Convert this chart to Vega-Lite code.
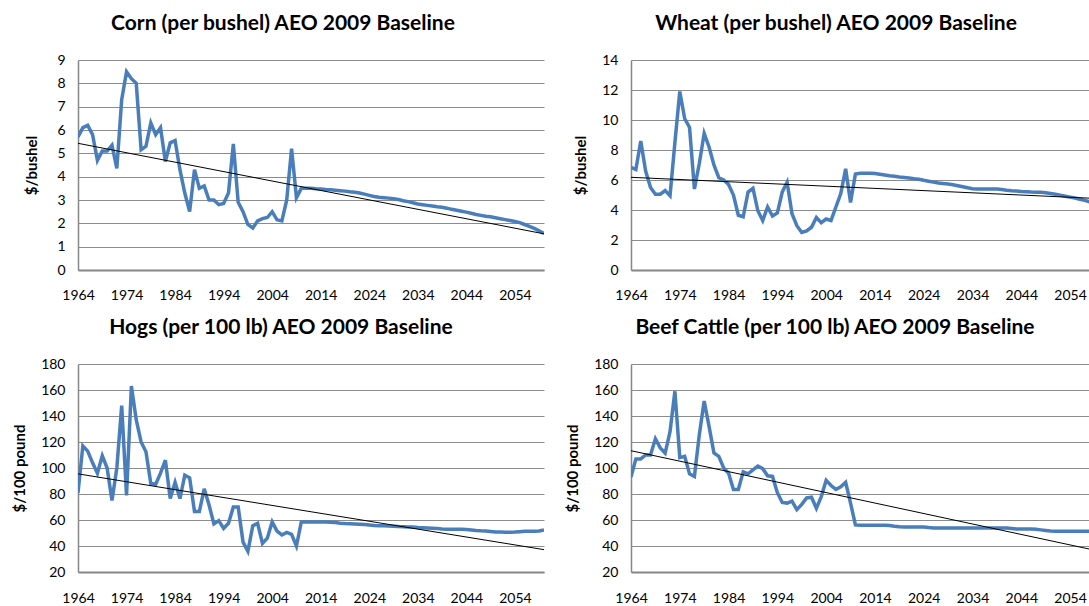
{
"$schema": "https://vega.github.io/schema/vega-lite/v6.json",
"padding": {"left": 12, "top": 13, "right": 0, "bottom": 0},
"columns": 2,
"align": "each",
"spacing": {"row": 15, "column": 21},
"config": {
  "font": "Lato",
  "view": {"stroke": null},
  "title": {"font": "Lato", "fontSize": 21, "fontWeight": "bold", "color": "#000000", "anchor": "middle", "offset": 19},
  "axis": {"labelFont": "Lato", "labelFontSize": 14, "labelColor": "#000000", "titleFont": "Lato", "titleColor": "#000000", "labelFlush": false, "ticks": false, "tickSize": 0},
  "axisX": {"grid": false, "domainColor": "#868686", "domainWidth": 2, "labelPadding": 18},
  "axisY": {"grid": true, "gridColor": "#8c8c8c", "gridWidth": 1, "domainColor": "#868686", "domainWidth": 1.5, "labelPadding": 13, "titlePadding": 13, "titleFontSize": 15, "titleFontWeight": "bold"}
},
"concat": [
  {
    "width": 466, "height": 210,
    "title": {"text": "Corn (per bushel) AEO 2009 Baseline", "dx": -28},
    "encoding": {
      "x": {"field": "year", "type": "quantitative", "scale": {"domain": [1964, 2060], "nice": false, "zero": false}, "axis": {"title": null, "format": "d", "values": [1964, 1974, 1984, 1994, 2004, 2014, 2024, 2034, 2044, 2054]}},
      "y": {"field": "price", "type": "quantitative", "scale": {"domain": [0, 9], "nice": false, "zero": false}, "axis": {"title": "$/bushel", "titlePadding": 17, "values": [0, 1, 2, 3, 4, 5, 6, 7, 8, 9]}}
    },
    "layer": [
      {"data": {"name": "corn"}, "mark": {"type": "line", "color": "#4A7EBB", "strokeWidth": 3.5, "clip": true}},
      {"data": {"name": "cornTrend"}, "mark": {"type": "line", "color": "#000000", "strokeWidth": 1, "clip": true}}
    ]
  },
  {
    "width": 462, "height": 210,
    "title": {"text": "Wheat (per bushel) AEO 2009 Baseline", "dx": -26},
    "encoding": {
      "x": {"field": "year", "type": "quantitative", "scale": {"domain": [1964, 2058.7], "nice": false, "zero": false}, "axis": {"title": null, "format": "d", "values": [1964, 1974, 1984, 1994, 2004, 2014, 2024, 2034, 2044, 2054]}},
      "y": {"field": "price", "type": "quantitative", "scale": {"domain": [0, 14], "nice": false, "zero": false}, "axis": {"title": "$/bushel", "values": [0, 2, 4, 6, 8, 10, 12, 14]}}
    },
    "layer": [
      {"data": {"name": "wheat"}, "mark": {"type": "line", "color": "#4A7EBB", "strokeWidth": 3.5, "clip": true}},
      {"data": {"name": "wheatTrend"}, "mark": {"type": "line", "color": "#000000", "strokeWidth": 1, "clip": true}}
    ]
  },
  {
    "width": 466, "height": 208,
    "title": {"text": "Hogs (per 100 lb) AEO 2009 Baseline", "dx": -30},
    "encoding": {
      "x": {"field": "year", "type": "quantitative", "scale": {"domain": [1964, 2060], "nice": false, "zero": false}, "axis": {"title": null, "format": "d", "labelPadding": 19, "values": [1964, 1974, 1984, 1994, 2004, 2014, 2024, 2034, 2044, 2054]}},
      "y": {"field": "price", "type": "quantitative", "scale": {"domain": [20, 180], "nice": false, "zero": false}, "axis": {"title": "$/100 pound", "values": [20, 40, 60, 80, 100, 120, 140, 160, 180]}}
    },
    "layer": [
      {"data": {"name": "hogs"}, "mark": {"type": "line", "color": "#4A7EBB", "strokeWidth": 3.5, "clip": true}},
      {"data": {"name": "hogsTrend"}, "mark": {"type": "line", "color": "#000000", "strokeWidth": 1, "clip": true}}
    ]
  },
  {
    "width": 462, "height": 208,
    "title": {"text": "Beef Cattle (per 100 lb) AEO 2009 Baseline", "dx": -27},
    "encoding": {
      "x": {"field": "year", "type": "quantitative", "scale": {"domain": [1964, 2058.7], "nice": false, "zero": false}, "axis": {"title": null, "format": "d", "labelPadding": 19, "values": [1964, 1974, 1984, 1994, 2004, 2014, 2024, 2034, 2044, 2054]}},
      "y": {"field": "price", "type": "quantitative", "scale": {"domain": [20, 180], "nice": false, "zero": false}, "axis": {"title": "$/100 pound", "values": [20, 40, 60, 80, 100, 120, 140, 160, 180]}}
    },
    "layer": [
      {"data": {"name": "beef"}, "mark": {"type": "line", "color": "#4A7EBB", "strokeWidth": 3.5, "clip": true}},
      {"data": {"name": "beefTrend"}, "mark": {"type": "line", "color": "#000000", "strokeWidth": 1, "clip": true}}
    ]
  }
],
"datasets": {
  "cornTrend": [{"year": 1964, "price": 5.43}, {"year": 2060, "price": 1.55}],
  "wheatTrend": [{"year": 1964, "price": 6.18}, {"year": 2060, "price": 4.76}],
  "hogsTrend": [{"year": 1964, "price": 95.5}, {"year": 2060, "price": 37.2}],
  "beefTrend": [{"year": 1964, "price": 113.3}, {"year": 2060, "price": 36.0}],
  "corn": [
    {"year": 1964, "price": 5.7}, {"year": 1965, "price": 6.1}, {"year": 1966, "price": 6.2}, {"year": 1967, "price": 5.8}, {"year": 1968, "price": 4.7},
    {"year": 1969, "price": 5.1}, {"year": 1970, "price": 5.1}, {"year": 1971, "price": 5.35}, {"year": 1972, "price": 4.35}, {"year": 1973, "price": 7.3},
    {"year": 1974, "price": 8.5}, {"year": 1975, "price": 8.2}, {"year": 1976, "price": 8.0}, {"year": 1977, "price": 5.15}, {"year": 1978, "price": 5.3},
    {"year": 1979, "price": 6.3}, {"year": 1980, "price": 5.8}, {"year": 1981, "price": 6.1}, {"year": 1982, "price": 4.65}, {"year": 1983, "price": 5.45},
    {"year": 1984, "price": 5.55}, {"year": 1985, "price": 4.3}, {"year": 1986, "price": 3.3}, {"year": 1987, "price": 2.5}, {"year": 1988, "price": 4.3},
    {"year": 1989, "price": 3.5}, {"year": 1990, "price": 3.6}, {"year": 1991, "price": 3.0}, {"year": 1992, "price": 3.0}, {"year": 1993, "price": 2.8},
    {"year": 1994, "price": 2.85}, {"year": 1995, "price": 3.3}, {"year": 1996, "price": 5.4}, {"year": 1997, "price": 2.9}, {"year": 1998, "price": 2.5},
    {"year": 1999, "price": 1.95}, {"year": 2000, "price": 1.8}, {"year": 2001, "price": 2.1}, {"year": 2002, "price": 2.2}, {"year": 2003, "price": 2.25},
    {"year": 2004, "price": 2.5}, {"year": 2005, "price": 2.15}, {"year": 2006, "price": 2.1}, {"year": 2007, "price": 3.0}, {"year": 2008, "price": 5.2},
    {"year": 2009, "price": 3.1}, {"year": 2010, "price": 3.5}, {"year": 2011, "price": 3.5}, {"year": 2012, "price": 3.5}, {"year": 2013, "price": 3.48},
    {"year": 2014, "price": 3.47}, {"year": 2015, "price": 3.45}, {"year": 2016, "price": 3.44}, {"year": 2017, "price": 3.42}, {"year": 2018, "price": 3.4},
    {"year": 2019, "price": 3.38}, {"year": 2020, "price": 3.35}, {"year": 2021, "price": 3.33}, {"year": 2022, "price": 3.3}, {"year": 2023, "price": 3.25},
    {"year": 2024, "price": 3.2}, {"year": 2025, "price": 3.15}, {"year": 2026, "price": 3.12}, {"year": 2027, "price": 3.1}, {"year": 2028, "price": 3.08},
    {"year": 2029, "price": 3.05}, {"year": 2030, "price": 3.02}, {"year": 2031, "price": 2.97}, {"year": 2032, "price": 2.93}, {"year": 2033, "price": 2.88},
    {"year": 2034, "price": 2.83}, {"year": 2035, "price": 2.8}, {"year": 2036, "price": 2.77}, {"year": 2037, "price": 2.74}, {"year": 2038, "price": 2.71},
    {"year": 2039, "price": 2.69}, {"year": 2040, "price": 2.65}, {"year": 2041, "price": 2.6}, {"year": 2042, "price": 2.56}, {"year": 2043, "price": 2.52},
    {"year": 2044, "price": 2.48}, {"year": 2045, "price": 2.43}, {"year": 2046, "price": 2.38}, {"year": 2047, "price": 2.34}, {"year": 2048, "price": 2.3},
    {"year": 2049, "price": 2.28}, {"year": 2050, "price": 2.24}, {"year": 2051, "price": 2.2}, {"year": 2052, "price": 2.16}, {"year": 2053, "price": 2.12},
    {"year": 2054, "price": 2.08}, {"year": 2055, "price": 2.03}, {"year": 2056, "price": 1.95}, {"year": 2057, "price": 1.87}, {"year": 2058, "price": 1.78},
    {"year": 2059, "price": 1.68}, {"year": 2060, "price": 1.57}
  ],
  "wheat": [
    {"year": 1964, "price": 6.85}, {"year": 1965, "price": 6.7}, {"year": 1966, "price": 8.6}, {"year": 1967, "price": 6.6}, {"year": 1968, "price": 5.5},
    {"year": 1969, "price": 5.05}, {"year": 1970, "price": 5.05}, {"year": 1971, "price": 5.3}, {"year": 1972, "price": 4.95}, {"year": 1973, "price": 8.5},
    {"year": 1974, "price": 11.9}, {"year": 1975, "price": 10.1}, {"year": 1976, "price": 9.5}, {"year": 1977, "price": 5.4}, {"year": 1978, "price": 7.1},
    {"year": 1979, "price": 9.1}, {"year": 1980, "price": 8.2}, {"year": 1981, "price": 7.0}, {"year": 1982, "price": 6.15}, {"year": 1983, "price": 6.0},
    {"year": 1984, "price": 5.7}, {"year": 1985, "price": 5.0}, {"year": 1986, "price": 3.65}, {"year": 1987, "price": 3.55}, {"year": 1988, "price": 5.2},
    {"year": 1989, "price": 5.45}, {"year": 1990, "price": 3.95}, {"year": 1991, "price": 3.3}, {"year": 1992, "price": 4.2}, {"year": 1993, "price": 3.6},
    {"year": 1994, "price": 3.8}, {"year": 1995, "price": 5.2}, {"year": 1996, "price": 5.85}, {"year": 1997, "price": 3.75}, {"year": 1998, "price": 2.95},
    {"year": 1999, "price": 2.5}, {"year": 2000, "price": 2.6}, {"year": 2001, "price": 2.85}, {"year": 2002, "price": 3.5}, {"year": 2003, "price": 3.15},
    {"year": 2004, "price": 3.4}, {"year": 2005, "price": 3.3}, {"year": 2006, "price": 4.2}, {"year": 2007, "price": 5.1}, {"year": 2008, "price": 6.75},
    {"year": 2009, "price": 4.5}, {"year": 2010, "price": 6.4}, {"year": 2011, "price": 6.45}, {"year": 2012, "price": 6.45}, {"year": 2013, "price": 6.45},
    {"year": 2014, "price": 6.43}, {"year": 2015, "price": 6.38}, {"year": 2016, "price": 6.33}, {"year": 2017, "price": 6.28}, {"year": 2018, "price": 6.25},
    {"year": 2019, "price": 6.2}, {"year": 2020, "price": 6.17}, {"year": 2021, "price": 6.13}, {"year": 2022, "price": 6.08}, {"year": 2023, "price": 6.05},
    {"year": 2024, "price": 5.98}, {"year": 2025, "price": 5.92}, {"year": 2026, "price": 5.86}, {"year": 2027, "price": 5.8}, {"year": 2028, "price": 5.76},
    {"year": 2029, "price": 5.73}, {"year": 2030, "price": 5.68}, {"year": 2031, "price": 5.62}, {"year": 2032, "price": 5.55}, {"year": 2033, "price": 5.48},
    {"year": 2034, "price": 5.42}, {"year": 2035, "price": 5.4}, {"year": 2036, "price": 5.4}, {"year": 2037, "price": 5.4}, {"year": 2038, "price": 5.4},
    {"year": 2039, "price": 5.4}, {"year": 2040, "price": 5.36}, {"year": 2041, "price": 5.32}, {"year": 2042, "price": 5.29}, {"year": 2043, "price": 5.27},
    {"year": 2044, "price": 5.24}, {"year": 2045, "price": 5.22}, {"year": 2046, "price": 5.2}, {"year": 2047, "price": 5.19}, {"year": 2048, "price": 5.18},
    {"year": 2049, "price": 5.15}, {"year": 2050, "price": 5.1}, {"year": 2051, "price": 5.05}, {"year": 2052, "price": 4.98}, {"year": 2053, "price": 4.92},
    {"year": 2054, "price": 4.86}, {"year": 2055, "price": 4.8}, {"year": 2056, "price": 4.72}, {"year": 2057, "price": 4.64}, {"year": 2058, "price": 4.55},
    {"year": 2059, "price": 4.47}, {"year": 2060, "price": 4.4}
  ],
  "hogs": [
    {"year": 1964, "price": 81}, {"year": 1965, "price": 117}, {"year": 1966, "price": 113}, {"year": 1967, "price": 104}, {"year": 1968, "price": 96},
    {"year": 1969, "price": 109.5}, {"year": 1970, "price": 100}, {"year": 1971, "price": 75}, {"year": 1972, "price": 100}, {"year": 1973, "price": 148},
    {"year": 1974, "price": 79}, {"year": 1975, "price": 163}, {"year": 1976, "price": 137}, {"year": 1977, "price": 120}, {"year": 1978, "price": 112.5},
    {"year": 1979, "price": 88}, {"year": 1980, "price": 87.5}, {"year": 1981, "price": 96}, {"year": 1982, "price": 106}, {"year": 1983, "price": 76.5},
    {"year": 1984, "price": 89}, {"year": 1985, "price": 76.5}, {"year": 1986, "price": 94.5}, {"year": 1987, "price": 92.5}, {"year": 1988, "price": 66.5},
    {"year": 1989, "price": 66.5}, {"year": 1990, "price": 84}, {"year": 1991, "price": 71.5}, {"year": 1992, "price": 57}, {"year": 1993, "price": 59.5},
    {"year": 1994, "price": 53.5}, {"year": 1995, "price": 57.5}, {"year": 1996, "price": 70}, {"year": 1997, "price": 70}, {"year": 1998, "price": 43},
    {"year": 1999, "price": 36}, {"year": 2000, "price": 55.5}, {"year": 2001, "price": 57.5}, {"year": 2002, "price": 42}, {"year": 2003, "price": 46},
    {"year": 2004, "price": 58.5}, {"year": 2005, "price": 51.5}, {"year": 2006, "price": 48.5}, {"year": 2007, "price": 50.5}, {"year": 2008, "price": 49},
    {"year": 2009, "price": 40}, {"year": 2010, "price": 58.5}, {"year": 2011, "price": 58.5}, {"year": 2012, "price": 58.5}, {"year": 2013, "price": 58.5},
    {"year": 2014, "price": 58.5}, {"year": 2015, "price": 58.5}, {"year": 2016, "price": 58.3}, {"year": 2017, "price": 58.0}, {"year": 2018, "price": 57.5},
    {"year": 2019, "price": 57.3}, {"year": 2020, "price": 57.2}, {"year": 2021, "price": 57.0}, {"year": 2022, "price": 56.8}, {"year": 2023, "price": 56.5},
    {"year": 2024, "price": 56.2}, {"year": 2025, "price": 55.8}, {"year": 2026, "price": 55.5}, {"year": 2027, "price": 55.5}, {"year": 2028, "price": 55.4},
    {"year": 2029, "price": 55.2}, {"year": 2030, "price": 55.0}, {"year": 2031, "price": 54.9}, {"year": 2032, "price": 54.7}, {"year": 2033, "price": 54.6},
    {"year": 2034, "price": 54.3}, {"year": 2035, "price": 54.1}, {"year": 2036, "price": 53.9}, {"year": 2037, "price": 53.7}, {"year": 2038, "price": 53.4},
    {"year": 2039, "price": 53.1}, {"year": 2040, "price": 52.9}, {"year": 2041, "price": 52.9}, {"year": 2042, "price": 52.8}, {"year": 2043, "price": 52.8},
    {"year": 2044, "price": 52.7}, {"year": 2045, "price": 52.3}, {"year": 2046, "price": 51.9}, {"year": 2047, "price": 51.7}, {"year": 2048, "price": 51.6},
    {"year": 2049, "price": 51.2}, {"year": 2050, "price": 50.8}, {"year": 2051, "price": 50.7}, {"year": 2052, "price": 50.6}, {"year": 2053, "price": 50.6},
    {"year": 2054, "price": 50.7}, {"year": 2055, "price": 51.0}, {"year": 2056, "price": 51.3}, {"year": 2057, "price": 51.3}, {"year": 2058, "price": 51.4},
    {"year": 2059, "price": 51.6}, {"year": 2060, "price": 52.4}
  ],
  "beef": [
    {"year": 1964, "price": 93}, {"year": 1965, "price": 107}, {"year": 1966, "price": 107}, {"year": 1967, "price": 110}, {"year": 1968, "price": 110},
    {"year": 1969, "price": 122.5}, {"year": 1970, "price": 115.5}, {"year": 1971, "price": 111.5}, {"year": 1972, "price": 128}, {"year": 1973, "price": 159},
    {"year": 1974, "price": 108}, {"year": 1975, "price": 109}, {"year": 1976, "price": 95.5}, {"year": 1977, "price": 93.5}, {"year": 1978, "price": 125.5},
    {"year": 1979, "price": 151.5}, {"year": 1980, "price": 132}, {"year": 1981, "price": 111.5}, {"year": 1982, "price": 109}, {"year": 1983, "price": 100},
    {"year": 1984, "price": 96}, {"year": 1985, "price": 83.5}, {"year": 1986, "price": 83.5}, {"year": 1987, "price": 97}, {"year": 1988, "price": 95.5},
    {"year": 1989, "price": 98.5}, {"year": 1990, "price": 101.5}, {"year": 1991, "price": 99.5}, {"year": 1992, "price": 94}, {"year": 1993, "price": 93.5},
    {"year": 1994, "price": 81}, {"year": 1995, "price": 73.5}, {"year": 1996, "price": 73}, {"year": 1997, "price": 74.5}, {"year": 1998, "price": 68},
    {"year": 1999, "price": 72}, {"year": 2000, "price": 77}, {"year": 2001, "price": 77.5}, {"year": 2002, "price": 69}, {"year": 2003, "price": 78},
    {"year": 2004, "price": 90.5}, {"year": 2005, "price": 86.5}, {"year": 2006, "price": 83.5}, {"year": 2007, "price": 85.5}, {"year": 2008, "price": 89},
    {"year": 2009, "price": 73}, {"year": 2010, "price": 56.2}, {"year": 2011, "price": 55.9}, {"year": 2012, "price": 55.9}, {"year": 2013, "price": 55.9},
    {"year": 2014, "price": 55.9}, {"year": 2015, "price": 55.9}, {"year": 2016, "price": 55.9}, {"year": 2017, "price": 55.8}, {"year": 2018, "price": 55.2},
    {"year": 2019, "price": 54.8}, {"year": 2020, "price": 54.7}, {"year": 2021, "price": 54.6}, {"year": 2022, "price": 54.6}, {"year": 2023, "price": 54.6},
    {"year": 2024, "price": 54.6}, {"year": 2025, "price": 54.2}, {"year": 2026, "price": 53.9}, {"year": 2027, "price": 53.8}, {"year": 2028, "price": 53.8},
    {"year": 2029, "price": 53.8}, {"year": 2030, "price": 53.8}, {"year": 2031, "price": 53.8}, {"year": 2032, "price": 53.8}, {"year": 2033, "price": 53.8},
    {"year": 2034, "price": 53.8}, {"year": 2035, "price": 53.8}, {"year": 2036, "price": 53.8}, {"year": 2037, "price": 53.8}, {"year": 2038, "price": 53.8},
    {"year": 2039, "price": 53.8}, {"year": 2040, "price": 53.8}, {"year": 2041, "price": 53.8}, {"year": 2042, "price": 53.5}, {"year": 2043, "price": 53.1},
    {"year": 2044, "price": 53.0}, {"year": 2045, "price": 53.0}, {"year": 2046, "price": 53.0}, {"year": 2047, "price": 52.8}, {"year": 2048, "price": 52.4},
    {"year": 2049, "price": 52.0}, {"year": 2050, "price": 51.6}, {"year": 2051, "price": 51.3}, {"year": 2052, "price": 51.3}, {"year": 2053, "price": 51.3},
    {"year": 2054, "price": 51.3}, {"year": 2055, "price": 51.3}, {"year": 2056, "price": 51.3}, {"year": 2057, "price": 51.3}, {"year": 2058, "price": 51.3},
    {"year": 2059, "price": 51.3}, {"year": 2060, "price": 51.3}
  ]
}
}
